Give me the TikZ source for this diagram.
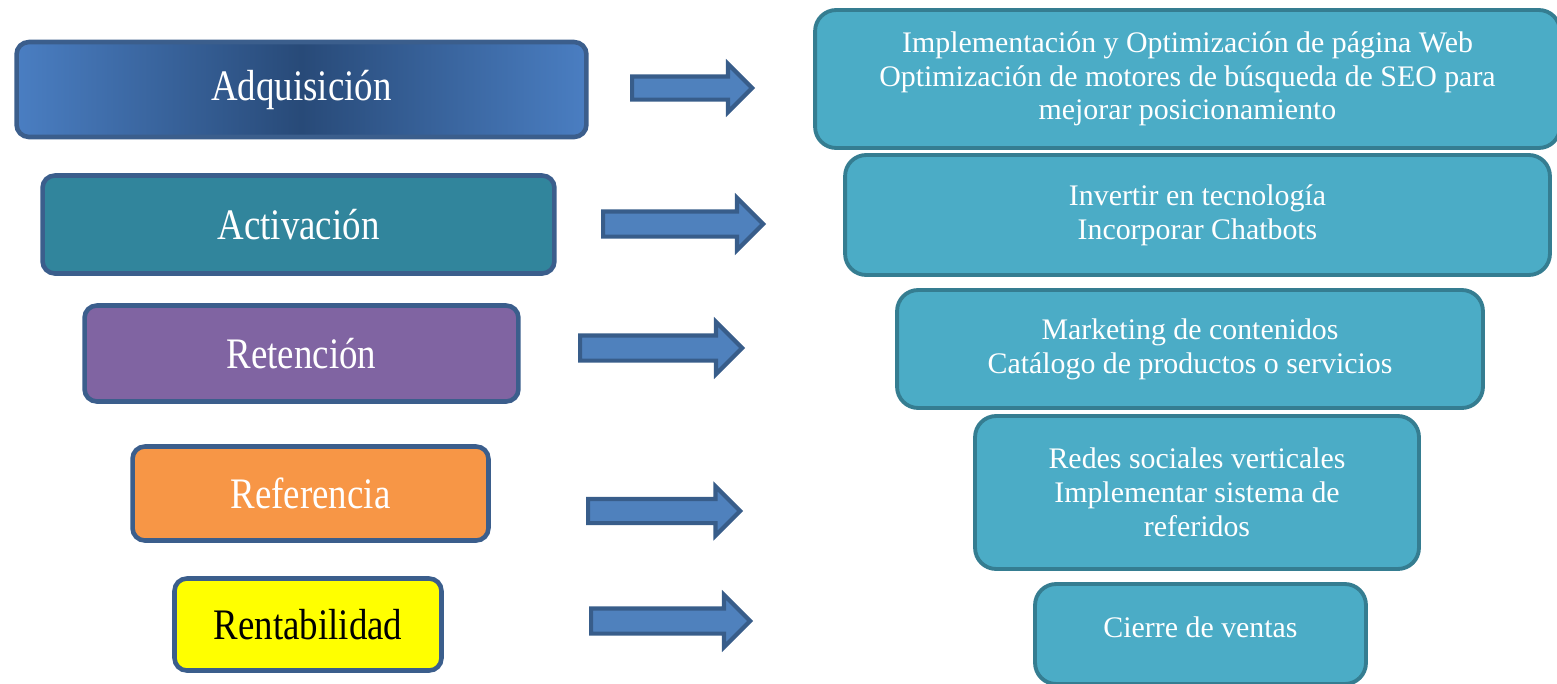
\documentclass[tikz,border=0pt]{standalone}
\usepackage{graphicx}
\usepackage{fontspec}
\setmainfont{Liberation Serif}
\usetikzlibrary{shapes.arrows}
\definecolor{stageline}{HTML}{3B5E8C}
\definecolor{adqedge}{HTML}{4A7EC2}
\definecolor{adqmid}{HTML}{284A78}
\definecolor{actfill}{HTML}{31859C}
\definecolor{retfill}{HTML}{8064A2}
\definecolor{reffill}{HTML}{F79646}
\definecolor{rentfill}{HTML}{FFFF00}
\definecolor{tacticfill}{HTML}{4BACC6}
\definecolor{tacticline}{HTML}{357D91}
\definecolor{arrowfill}{HTML}{4F81BD}
\definecolor{arrowline}{HTML}{385D8A}
\newcommand{\stagetext}[1]{\scalebox{1}[1.18]{#1}}

\begin{document}
\begin{tikzpicture}[x=0.02cm,y=-0.02cm,
  stagebox/.style={draw=stageline,line width=2.6pt,rounded corners=7pt,text=white,
    font=\fontsize{21}{25}\selectfont},
  tacticbox/.style={draw=tacticline,fill=tacticfill,line width=2.2pt,rounded corners=12pt,
    text=white,align=center,font=\fontsize{17}{19.2}\selectfont},
  blockarrow/.style={single arrow,anchor=tail,draw=arrowline,fill=arrowfill,line width=2.4pt,
    inner xsep=0pt,inner ysep=0.21cm,single arrow head extend=0.27cm}]
  \useasboundingbox (0,0) rectangle (1557,683);

  % stages
  \node[stagebox,left color=adqedge,right color=adqedge,middle color=adqmid,
    minimum width=11.4cm,minimum height=1.9cm] (adq) at (301.5,89.5) {\stagetext{Adquisición}};
  \node[stagebox,fill=actfill,minimum width=10.24cm,minimum height=1.96cm] (act) at (298.5,224.5) {\stagetext{Activación}};
  \node[stagebox,fill=retfill,minimum width=8.68cm,minimum height=1.92cm] (ret) at (301.5,353.5) {\stagetext{Retención}};
  \node[stagebox,fill=reffill,minimum width=7.12cm,minimum height=1.88cm] (refe) at (310.5,493.5) {\stagetext{Referencia}};
  \node[stagebox,fill=rentfill,text=black,minimum width=5.34cm,minimum height=1.84cm] (rent) at (308,624.5) {\stagetext{Rentabilidad}};

  % arrows
  \node[blockarrow,minimum height=2.4cm,inner ysep=0.19cm,single arrow head extend=0.25cm] (a1) at (630,88) {};
  \node[blockarrow,minimum height=3.2cm] (a2) at (601,224) {};
  \node[blockarrow,minimum height=3.24cm] (a3) at (578,348) {};
  \node[blockarrow,minimum height=3.04cm,inner ysep=0.2cm,single arrow head extend=0.25cm] (a4) at (586,511) {};
  \node[blockarrow,minimum height=3.18cm] (a5) at (589,621) {};

  % tactics
  \node[tacticbox,minimum width=14.9cm,minimum height=2.76cm] (r1) at (1187.5,79)
    {Implementación y Optimización de página Web\\Optimización de motores de búsqueda de SEO para\\mejorar posicionamiento};
  \node[tacticbox,minimum width=14.1cm,minimum height=2.4cm] (r2) at (1197.5,215)
    {Invertir en tecnología\\Incorporar Chatbots};
  \node[tacticbox,minimum width=11.72cm,minimum height=2.36cm] (r3) at (1190,349)
    {Marketing de contenidos\\Catálogo de productos o servicios};
  \node[tacticbox,minimum width=8.88cm,minimum height=3.06cm] (r4) at (1197,492.5)
    {Redes sociales verticales\\Implementar sistema de\\referidos};
  \node[tacticbox,minimum width=6.62cm,minimum height=2.0cm] (r5) at (1200.5,634)
    {\raisebox{0.14cm}[\height][\depth]{Cierre de ventas}};
\end{tikzpicture}
\end{document}
